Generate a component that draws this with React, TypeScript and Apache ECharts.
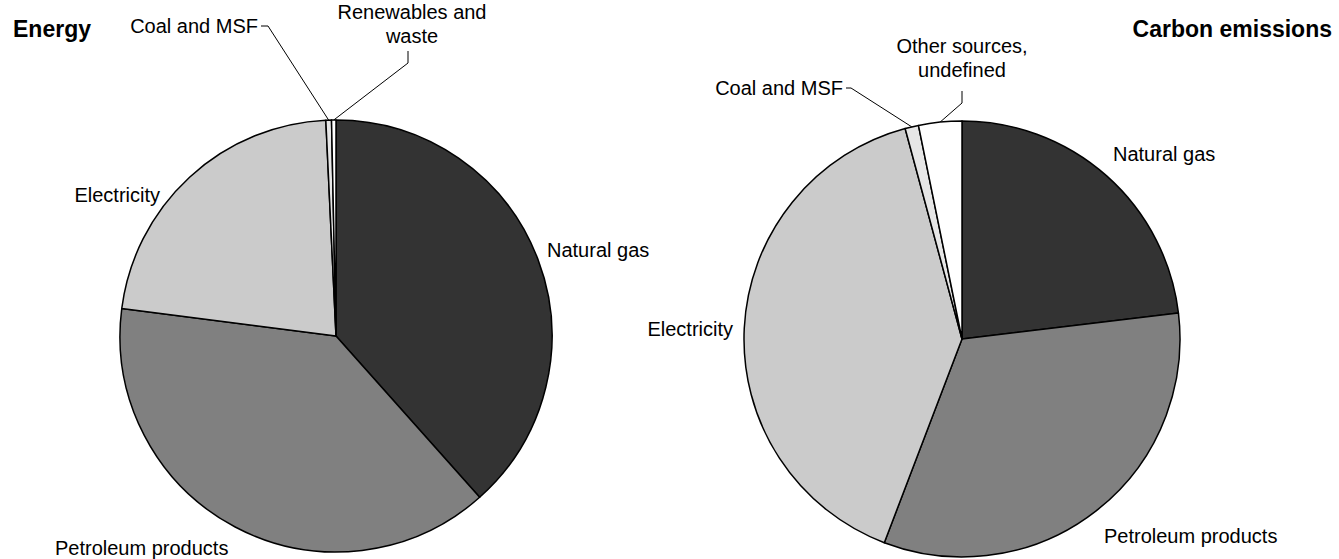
import React, { useEffect, useRef } from "react";
import * as echarts from "echarts";

const categoriesEnergy = ["Natural gas", "Petroleum products", "Electricity", "Coal and MSF", "Renewables and waste"];
const energyValues = [38.4, 38.6, 22.2, 0.42, 0.33];
const energyLabels = ["Natural gas", "Petroleum products", "Electricity", "Coal and MSF", "Renewables and\nwaste"];

const categoriesCarbon = ["Natural gas", "Petroleum products", "Electricity", "Coal and MSF", "Other sources, undefined"];
const carbonValues = [23.1, 32.7, 40.0, 1.0, 3.2];
const carbonLabels = ["Natural gas", "Petroleum products", "Electricity", "Coal and MSF", "Other sources,\nundefined"];

const sliceColors = ["#333333", "#808080", "#cbcbcb", "#e6e6e6", "#ffffff"];
const leaderIdx = [3, 4];

const FONT = "'Liberation Sans', Arial, sans-serif";

type LabelPos = { x: number; y: number; align: string; va: string; pts?: number[][] };

const energyLabelPos: LabelPos[] = [
  { x: 547, y: 250, align: "left", va: "middle" },
  { x: 55, y: 548, align: "left", va: "middle" },
  { x: 160, y: 195, align: "right", va: "middle" },
  { x: 258, y: 26, align: "right", va: "middle", pts: [[268, 26], [261, 26]] },
  { x: 412, y: 0, align: "center", va: "top", pts: [[408, 63], [408, 51]] },
];

const carbonLabelPos: LabelPos[] = [
  { x: 1113, y: 154, align: "left", va: "middle" },
  { x: 1104, y: 536, align: "left", va: "middle" },
  { x: 733, y: 329, align: "right", va: "middle" },
  { x: 843, y: 88, align: "right", va: "middle", pts: [[851, 88], [846, 88]] },
  { x: 962, y: 34, align: "center", va: "top", pts: [[962, 103], [962, 91]] },
];

function buildData(names: string[], values: number[], labels: string[]) {
  return names.map((n, i) => ({
    name: n,
    value: values[i],
    itemStyle: { color: sliceColors[i] },
    label: { formatter: labels[i] },
    labelLine: { show: leaderIdx.includes(i) },
  }));
}

function makeLayout(pos: LabelPos[]) {
  return (params: any) => {
    const p = pos[params.dataIndex];
    const out: any = { x: p.x, y: p.y, align: p.align, verticalAlign: p.va };
    if (p.pts && params.labelLinePoints && params.labelLinePoints.length) {
      out.labelLinePoints = [params.labelLinePoints[0], p.pts[0], p.pts[1]];
    }
    return out;
  };
}

function pieSeries(center: number[], radius: number, data: any[], pos: LabelPos[]) {
  return {
    type: "pie",
    center,
    radius,
    startAngle: 90,
    clockwise: true,
    avoidLabelOverlap: false,
    data,
    itemStyle: { borderColor: "#000", borderWidth: 1.5 },
    label: {
      show: true,
      position: "outside",
      color: "#000",
      fontSize: 20,
      fontFamily: FONT,
      lineHeight: 24,
    },
    labelLine: { show: false, length: 10, length2: 10, lineStyle: { color: "#000", width: 1 } },
    labelLayout: makeLayout(pos),
    emphasis: { disabled: true },
  };
}

export default function App() {
  const ref = useRef<HTMLDivElement>(null);
  useEffect(() => {
    if (!ref.current) return;
    const chart = echarts.init(ref.current, undefined, { renderer: "svg" });
    chart.setOption({
      animation: false,
      backgroundColor: "#ffffff",
      title: [
        { text: "Energy", left: 8, top: 12, textStyle: { fontSize: 23, fontWeight: "bold", color: "#000", fontFamily: FONT } },
        { text: "Carbon emissions", right: 2, top: 12, textStyle: { fontSize: 23, fontWeight: "bold", color: "#000", fontFamily: FONT } },
      ],
      series: [
        pieSeries([336, 336], 216, buildData(categoriesEnergy, energyValues, energyLabels), energyLabelPos),
        pieSeries([962, 339], 218, buildData(categoriesCarbon, carbonValues, carbonLabels), carbonLabelPos),
      ],
    });
    return () => chart.dispose();
  }, []);
  return <div ref={ref} style={{ position: "fixed", left: 0, top: 0, width: 1339, height: 559, background: "#fff" }} />;
}
